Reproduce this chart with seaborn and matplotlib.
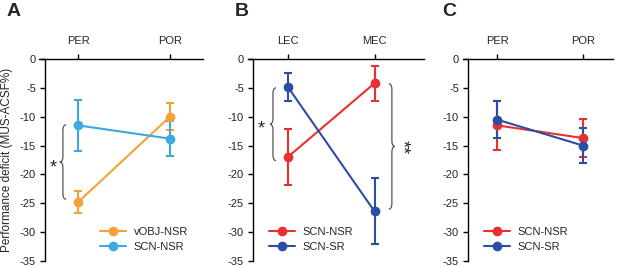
import numpy as np
import pandas as pd
import matplotlib
matplotlib.use("Agg")
import matplotlib.pyplot as plt
from matplotlib.path import Path
from matplotlib.patches import PathPatch
import seaborn as sns

# --- Data ---
regions_a = ["PER", "POR"]
vobj_nsr_a = [-24.8, -10.0]
vobj_nsr_a_err = [1.9, 2.3]
scn_nsr_a = [-11.5, -13.8]
scn_nsr_a_err = [4.4, 3.0]

regions_b = ["LEC", "MEC"]
scn_nsr_b = [-17.0, -4.2]
scn_nsr_b_err = [4.9, 3.0]
scn_sr_b = [-4.8, -26.4]
scn_sr_b_err = [2.4, 5.7]

regions_c = ["PER", "POR"]
scn_nsr_c = [-11.5, -13.7]
scn_nsr_c_err = [4.3, 3.3]
scn_sr_c = [-10.5, -15.0]
scn_sr_c_err = [3.2, 3.0]

ORANGE = "#F6A03A"
LIGHTBLUE = "#3CA9E1"
RED = "#E8312F"
DARKBLUE = "#2B4DA3"

sns.set_theme(style="ticks")
plt.rcParams["font.family"] = ["Liberation Sans", "DejaVu Sans"]
plt.rcParams["font.size"] = 8


def brace(ax, x0, y_top, y_bot, w, r, facing="left"):
    """Draw a curly brace at x0 between y_top and y_bot; tip points to `facing`."""
    s = -1 if facing == "left" else 1
    mid = (y_top + y_bot) / 2
    verts = [
        (x0 - s * w, y_top), (x0, y_top), (x0, y_top - r),
        (x0, mid + r), (x0, mid), (x0 + s * w, mid),
        (x0, mid), (x0, mid - r),
        (x0, y_bot + r), (x0, y_bot), (x0 - s * w, y_bot),
    ]
    codes = [Path.MOVETO, Path.CURVE3, Path.CURVE3,
             Path.LINETO, Path.CURVE3, Path.CURVE3,
             Path.CURVE3, Path.CURVE3,
             Path.LINETO, Path.CURVE3, Path.CURVE3]
    ax.add_patch(PathPatch(Path(verts, codes), fill=False, ec="#555555",
                           lw=0.9, clip_on=False))


def draw_panel(ax, cats, series, xlim, legend_anchor):
    rows = []
    for name, vals, errs, color in series:
        for i, (c, v) in enumerate(zip(cats, vals)):
            rows.append({"pos": i, "region": c, "value": v, "group": name})
    df = pd.DataFrame(rows)
    palette = {name: color for name, _, _, color in series}
    sns.lineplot(data=df, x="pos", y="value", hue="group", palette=palette,
                 marker="o", markersize=7, markeredgewidth=0, linewidth=1.5,
                 ax=ax, legend=True, zorder=3)
    for name, vals, errs, color in series:
        ax.errorbar(range(len(cats)), vals, yerr=errs, fmt="none", ecolor=color,
                    elinewidth=1.5, capsize=3, capthick=1.5, zorder=2)
    ax.set_xlim(*xlim)
    ax.set_ylim(-35, 0)
    ax.set_yticks(np.arange(0, -36, -5))
    ax.set_yticklabels([str(t) for t in np.arange(0, -36, -5)])
    ax.xaxis.tick_top()
    ax.set_xticks(range(len(cats)))
    ax.set_xticklabels(cats)
    ax.set_xlabel("")
    ax.set_ylabel("")
    for side in ["bottom", "right"]:
        ax.spines[side].set_visible(False)
    for side in ["top", "left"]:
        ax.spines[side].set_linewidth(1.0)
        ax.spines[side].set_color("black")
    ax.tick_params(axis="both", length=3.5, width=1.0, labelsize=8, pad=3,
                   color="black")
    ax.tick_params(axis="x", pad=6)
    ax.spines["top"].set_bounds(xlim[0] - 0.06, xlim[1])
    ax.legend(loc="lower left", bbox_to_anchor=legend_anchor, frameon=False,
              fontsize=8, handlelength=2.3, handletextpad=0.7,
              labelspacing=0.45, borderpad=0, borderaxespad=0, title=None)


fig = plt.figure(figsize=(6.17, 2.67), dpi=100)
H = 267.0
W = 617.0
bottom = 1 - 261 / H
height = (261 - 59) / H
ax_a = fig.add_axes([45 / W, bottom, (203 - 45) / W, height])
ax_b = fig.add_axes([253 / W, bottom, (424 - 253) / W, height])
ax_c = fig.add_axes([468 / W, bottom, (613 - 468) / W, height])

draw_panel(ax_a, regions_a,
           [("vOBJ-NSR", vobj_nsr_a, vobj_nsr_a_err, ORANGE),
            ("SCN-NSR", scn_nsr_a, scn_nsr_a_err, LIGHTBLUE)],
           (-0.36, 1.36), (0.35, 0.045))
draw_panel(ax_b, regions_b,
           [("SCN-NSR", scn_nsr_b, scn_nsr_b_err, RED),
            ("SCN-SR", scn_sr_b, scn_sr_b_err, DARKBLUE)],
           (-0.40, 1.57), (0.095, 0.045))
draw_panel(ax_c, regions_c,
           [("SCN-NSR", scn_nsr_c, scn_nsr_c_err, RED),
            ("SCN-SR", scn_sr_c, scn_sr_c_err, DARKBLUE)],
           (-0.34, 1.35), (0.11, 0.045))

# significance braces
brace(ax_a, -0.165, -11.4, -24.3, 0.035, 1.0, facing="left")
ax_a.text(-0.27, -18.8, "*", ha="center", va="center", fontsize=13)
brace(ax_b, -0.17, -5.0, -17.6, 0.035, 1.0, facing="left")
ax_b.text(-0.30, -12.1, "*", ha="center", va="center", fontsize=13)
brace(ax_b, 1.20, -4.3, -26.0, 0.035, 1.0, facing="right")
ax_b.text(1.31, -15.2, "**", ha="center", va="center", fontsize=13,
          rotation=-90)

ax_a.set_ylabel("Performance deficit (MUS-ACSF%)", fontsize=8.5, labelpad=5)

for label, x in [("A", 7), ("B", 235), ("C", 442)]:
    fig.text(x / W, 1 - 12 / H, label, fontsize=14, fontweight="bold",
             ha="left", va="center")

fig.savefig("out.png", dpi=100)
